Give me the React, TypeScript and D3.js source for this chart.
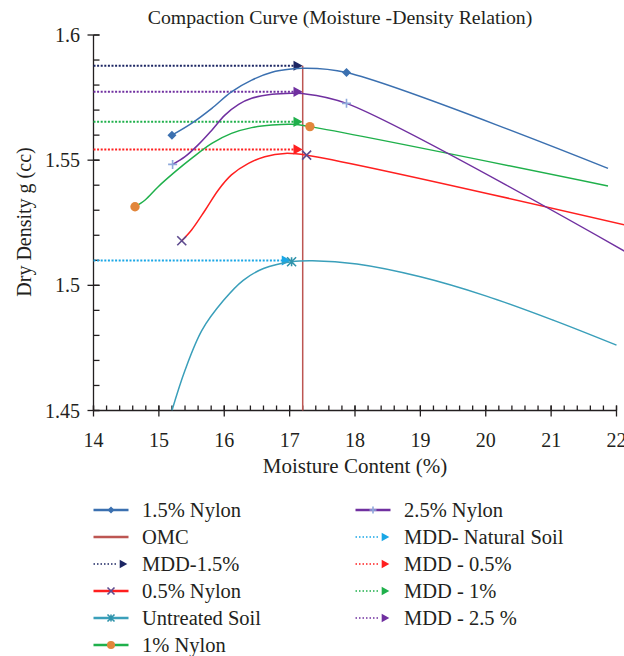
import React, { useEffect, useRef } from 'react';
import * as d3 from 'd3';

type Pt = [number, number];

// points: [moisture content %, dry density]
const nylon15: Pt[] = [[15.2, 1.56], [15.5, 1.5647], [15.81, 1.5707], [16.11, 1.5773], [16.42, 1.582], [16.73, 1.5851], [17.03, 1.5864], [17.2, 1.5867], [17.87, 1.585], [21.87, 1.5467]];
const nylon15Marks: Pt[] = [[15.2, 1.56], [17.87, 1.585]];
const nylon25: Pt[] = [[15.21, 1.5483], [15.4, 1.5514], [15.6, 1.5561], [15.81, 1.562], [16.01, 1.568], [16.22, 1.5723], [16.42, 1.5747], [16.73, 1.5763], [17.03, 1.5767], [17.2, 1.5766], [17.87, 1.5727], [22.12, 1.5137]];
const nylon25Marks: Pt[] = [[15.21, 1.5483], [17.87, 1.5727]];
const nylon1: Pt[] = [[14.635, 1.5314], [14.79, 1.5341], [14.99, 1.5394], [15.25, 1.5454], [15.5, 1.5507], [15.81, 1.5567], [16.11, 1.5607], [16.42, 1.563], [16.73, 1.564], [17.03, 1.5643], [17.31, 1.5634], [21.87, 1.5397]];
const nylon1Marks: Pt[] = [[14.635, 1.5314], [17.31, 1.5634]];
const nylon05: Pt[] = [[15.35, 1.5178], [15.5, 1.5221], [15.71, 1.5301], [15.91, 1.5381], [16.11, 1.5441], [16.37, 1.5487], [16.62, 1.5514], [16.93, 1.5527], [17.26, 1.552], [22.12, 1.5242]];
const nylon05Marks: Pt[] = [[15.35, 1.5178], [17.26, 1.552]];
const untreated: Pt[] = [[15.2, 1.45], [15.4, 1.4661], [15.66, 1.4821], [15.99, 1.494], [16.29, 1.502], [16.6, 1.5067], [17.03, 1.5094], [17.35, 1.5098], [18.03, 1.5085], [19.0, 1.5034], [20.01, 1.4957], [21.03, 1.4861], [22.0, 1.4761]];
const untreatedMarks: Pt[] = [[17.03, 1.5094]];

// MDD guide lines
const mddNames = ['MDD-1.5%', 'MDD - 2.5 %', 'MDD - 1%', 'MDD - 0.5%', 'MDD- Natural Soil'];
const mddValues = [1.5877, 1.5773, 1.5653, 1.5543, 1.5099];
const mddEnds = [17.13, 17.13, 17.13, 17.13, 16.95];
const mddColors = ['#1c2663', '#7030a0', '#1fb04b', '#ff1f1f', '#1aa7e6'];

const omcX = 17.2;
const omcTop = 1.5877;

const xTicks = [14, 15, 16, 17, 18, 19, 20, 21, 22];
const yTicks = [1.45, 1.5, 1.55, 1.6];

const FONT = "'Liberation Serif', 'Times New Roman', serif";
const INK = '#231f20';

const App = () => {
  const svgRef = useRef<SVGSVGElement>(null);

  useEffect(() => {
    const W = 624;
    const H = 656;
    const svg = d3.select(svgRef.current);
    svg.selectAll('*').remove();
    svg.attr('width', W).attr('height', H);

    const x = d3.scaleLinear().domain([14, 22]).range([93.5, 616.5]);
    const y = d3.scaleLinear().domain([1.45, 1.6]).range([410.5, 35]);

    svg.append('defs').append('clipPath').attr('id', 'plotclip')
      .append('rect').attr('x', 0).attr('y', 0).attr('width', W).attr('height', y(1.45));

    const marker = (g: any, type: string, cx: number, cy: number, s: number, color: string) => {
      if (type === 'diamond') {
        g.append('path').attr('d', `M${cx},${cy - s}L${cx + s},${cy}L${cx},${cy + s}L${cx - s},${cy}Z`).attr('fill', color);
      } else if (type === 'circle') {
        g.append('circle').attr('cx', cx).attr('cy', cy).attr('r', s).attr('fill', color);
      } else if (type === 'plus') {
        g.append('path').attr('d', `M${cx - s},${cy}H${cx + s}M${cx},${cy - s}V${cy + s}`)
          .attr('stroke', color).attr('stroke-width', 1.6).attr('fill', 'none');
      } else if (type === 'x') {
        g.append('path').attr('d', `M${cx - s},${cy - s}L${cx + s},${cy + s}M${cx - s},${cy + s}L${cx + s},${cy - s}`)
          .attr('stroke', color).attr('stroke-width', 1.6).attr('fill', 'none');
      } else if (type === 'star') {
        g.append('path').attr('d', `M${cx - s},${cy - s}L${cx + s},${cy + s}M${cx - s},${cy + s}L${cx + s},${cy - s}M${cx},${cy - s}V${cy + s}`)
          .attr('stroke', color).attr('stroke-width', 1.6).attr('fill', 'none');
      } else if (type === 'tri') {
        g.append('path').attr('d', `M${cx - s},${cy - s * 1.1}L${cx + s},${cy}L${cx - s},${cy + s * 1.1}Z`).attr('fill', color);
      }
    };

    const series = [
      { pts: nylon15, marks: nylon15Marks, color: '#3b70b0', mk: 'diamond', mkColor: '#3b70b0' },
      { pts: nylon05, marks: nylon05Marks, color: '#ff1f1f', mk: 'x', mkColor: '#5e4b8f' },
      { pts: untreated, marks: untreatedMarks, color: '#3a9fba', mk: 'star', mkColor: '#2f93ab' },
      { pts: nylon1, marks: nylon1Marks, color: '#1fb04b', mk: 'circle', mkColor: '#e2863b' },
      { pts: nylon25, marks: nylon25Marks, color: '#7030a0', mk: 'plus', mkColor: '#8ea9db' },
    ];

    const line = d3.line<Pt>().x(d => x(d[0])).y(d => y(d[1])).curve(d3.curveCatmullRom.alpha(0.5));

    // axes
    const axis = svg.append('g').attr('stroke', INK).attr('stroke-width', 1.3);
    axis.append('line').attr('x1', x(14)).attr('x2', x(14)).attr('y1', y(1.6)).attr('y2', y(1.45));
    axis.append('line').attr('x1', x(14)).attr('x2', x(22)).attr('y1', y(1.45)).attr('y2', y(1.45));
    axis.selectAll('.ymin').data(y.ticks(15)).enter().append('line')
      .attr('x1', x(14)).attr('x2', x(14) + 6).attr('y1', d => y(d)).attr('y2', d => y(d));
    axis.selectAll('.ymaj').data(yTicks).enter().append('line')
      .attr('x1', x(14) - 6).attr('x2', x(14) + 6).attr('y1', d => y(d)).attr('y2', d => y(d));
    axis.selectAll('.xmin').data(x.ticks(40)).enter().append('line')
      .attr('x1', d => x(d)).attr('x2', d => x(d)).attr('y1', y(1.45) - 5).attr('y2', y(1.45));
    axis.selectAll('.xmaj').data(xTicks).enter().append('line')
      .attr('x1', d => x(d)).attr('x2', d => x(d)).attr('y1', y(1.45) - 5).attr('y2', y(1.45) + 6);

    svg.selectAll('.ylab').data(yTicks).enter().append('text')
      .attr('x', 80).attr('y', d => y(d)).attr('dy', '0.35em').attr('text-anchor', 'end')
      .attr('font-family', FONT).attr('font-size', 20).attr('fill', INK)
      .text(d => String(d));
    svg.selectAll('.xlab').data(xTicks).enter().append('text')
      .attr('x', d => x(d)).attr('y', 447).attr('text-anchor', 'middle')
      .attr('font-family', FONT).attr('font-size', 20).attr('fill', INK)
      .text(d => String(d));

    // MDD dotted lines
    mddValues.forEach((v, i) => {
      svg.append('line').attr('x1', x(14)).attr('x2', x(mddEnds[i]) - 4).attr('y1', y(v)).attr('y2', y(v))
        .attr('stroke', mddColors[i]).attr('stroke-width', 2).attr('stroke-dasharray', '2,1.6');
      marker(svg, 'tri', x(mddEnds[i]), y(v), 4.6, mddColors[i]);
    });

    // OMC line
    svg.append('line').attr('x1', x(omcX)).attr('x2', x(omcX)).attr('y1', y(1.45)).attr('y2', y(omcTop))
      .attr('stroke', '#bd5652').attr('stroke-width', 1.5);

    // curves
    const plot = svg.append('g').attr('clip-path', 'url(#plotclip)');
    series.forEach(s => {
      plot.append('path').datum(s.pts).attr('d', line).attr('fill', 'none')
        .attr('stroke', s.color).attr('stroke-width', 1.5);
    });
    series.forEach(s => {
      s.marks.forEach(p => marker(plot, s.mk, x(p[0]), y(p[1]), s.mk === 'circle' ? 4.7 : 4.5, s.mkColor));
    });

    // titles
    svg.append('text').attr('x', 340).attr('y', 24).attr('text-anchor', 'middle')
      .attr('font-family', FONT).attr('font-size', 19.8).attr('fill', INK)
      .text('Compaction Curve (Moisture -Density Relation)');
    svg.append('text').attr('x', 355).attr('y', 473).attr('text-anchor', 'middle')
      .attr('font-family', FONT).attr('font-size', 21).attr('fill', INK)
      .text('Moisture Content (%)');
    svg.append('text').attr('transform', 'translate(31,222) rotate(-90)').attr('text-anchor', 'middle')
      .attr('font-family', FONT).attr('font-size', 20).attr('fill', INK)
      .text('Dry Density g (cc)');

    // legend
    const legend = [
      { col: 0, row: 0, label: '1.5% Nylon', color: '#3b70b0', mk: 'diamond', mkColor: '#3b70b0', dotted: false },
      { col: 0, row: 1, label: 'OMC', color: '#bd5652', mk: '', mkColor: '', dotted: false },
      { col: 0, row: 2, label: mddNames[0], color: mddColors[0], mk: 'tri', mkColor: mddColors[0], dotted: true },
      { col: 0, row: 3, label: '0.5% Nylon', color: '#ff1f1f', mk: 'x', mkColor: '#5e4b8f', dotted: false },
      { col: 0, row: 4, label: 'Untreated Soil', color: '#3a9fba', mk: 'star', mkColor: '#2f93ab', dotted: false },
      { col: 0, row: 5, label: '1% Nylon', color: '#1fb04b', mk: 'circle', mkColor: '#e2863b', dotted: false },
      { col: 1, row: 0, label: '2.5% Nylon', color: '#7030a0', mk: 'plus', mkColor: '#8ea9db', dotted: false },
      { col: 1, row: 1, label: mddNames[4], color: mddColors[4], mk: 'tri', mkColor: mddColors[4], dotted: true },
      { col: 1, row: 2, label: mddNames[3], color: mddColors[3], mk: 'tri', mkColor: mddColors[3], dotted: true },
      { col: 1, row: 3, label: mddNames[2], color: mddColors[2], mk: 'tri', mkColor: mddColors[2], dotted: true },
      { col: 1, row: 4, label: mddNames[1], color: mddColors[1], mk: 'tri', mkColor: mddColors[1], dotted: true },
    ];
    const colX = [93.5, 355.5];
    legend.forEach(it => {
      const lx = colX[it.col];
      const ly = 510 + it.row * 27;
      const g = svg.append('g');
      if (it.dotted) {
        g.append('line').attr('x1', lx).attr('x2', lx + 24).attr('y1', ly).attr('y2', ly)
          .attr('stroke', it.color).attr('stroke-width', 1.5).attr('stroke-dasharray', '1.5,2');
        marker(g, 'tri', lx + 30, ly, 3.8, it.mkColor);
      } else {
        g.append('line').attr('x1', lx).attr('x2', lx + 35).attr('y1', ly).attr('y2', ly)
          .attr('stroke', it.color).attr('stroke-width', 2.5);
        if (it.mk) marker(g, it.mk, lx + 17.5, ly, it.mk === 'circle' ? 4 : 3.5, it.mkColor);
      }
      g.append('text').attr('x', lx + 48.5).attr('y', ly).attr('dy', '0.35em')
        .attr('font-family', FONT).attr('font-size', 20.5).attr('fill', INK)
        .text(it.label);
    });
  }, []);

  return <svg ref={svgRef} style={{ position: 'absolute', left: 0, top: 0 }}></svg>;
};

export default App;
